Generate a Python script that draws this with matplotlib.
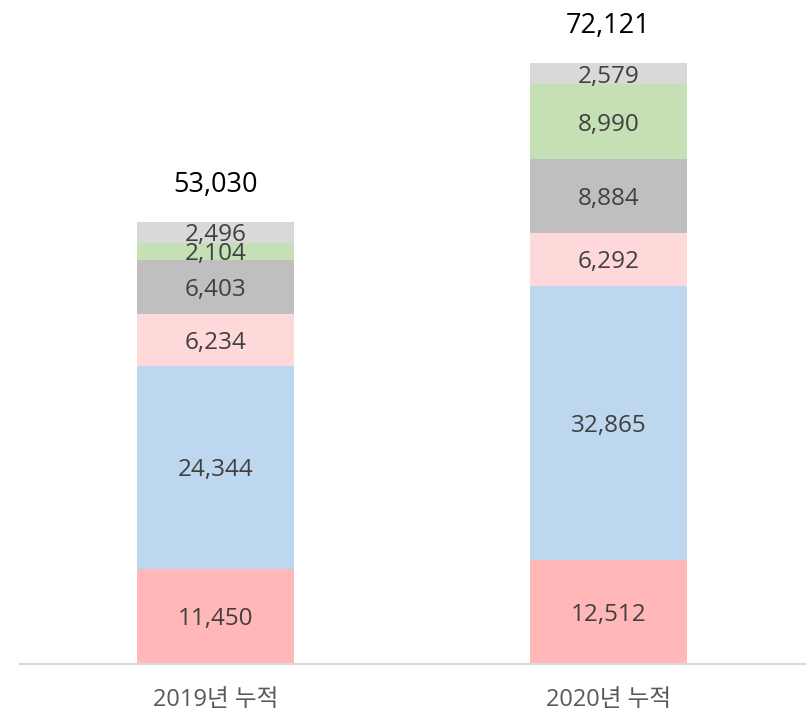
import matplotlib
matplotlib.use('Agg')
import matplotlib.pyplot as plt
import numpy as np

plt.rcParams['font.family'] = ['Open Sans', 'Noto Sans CJK KR', 'DejaVu Sans']

# 데이터
categories = ['2019년 누적', '2020년 누적']
s1 = [11450, 12512]
s2 = [24344, 32865]
s3 = [6234, 6292]
s4 = [6403, 8884]
s5 = [2104, 8990]
s6 = [2496, 2579]
totals = [53030, 72121]

series = [s1, s2, s3, s4, s5, s6]
colors = ['#FFB7B7', '#BDD7EE', '#FFD9D9', '#BFBFBF', '#C5E0B4', '#D9D9D9']

fig = plt.figure(figsize=(8.07, 7.14), dpi=100)
ax = fig.add_axes([20/807, 50/714, 785/807, 664/714])

x = np.arange(len(categories))
bottom = np.zeros(len(categories))
for vals, col in zip(series, colors):
    ax.bar(x, vals, width=0.4, bottom=bottom, color=col)
    for xi, b, v in zip(x, bottom, vals):
        ax.text(xi, b + v / 2, format(v, ','), ha='center', va='center_baseline',
                fontsize=17.5, color='#404040')
    bottom += np.array(vals)

for xi, t in zip(x, totals):
    ax.annotate(format(t, ','), (xi, t), xytext=(0, 29), textcoords='offset points',
                ha='center', va='center_baseline', fontsize=19.5, color='black')

ax.set_xlim(-0.497, 1.5)
ax.set_ylim(0, 79650)
ax.set_xticks(x)
ax.set_xticklabels(categories, fontsize=17, color='#595959')
ax.tick_params(axis='x', length=0, pad=17)
ax.set_yticks([])
for s in ['top', 'right', 'left']:
    ax.spines[s].set_visible(False)
ax.spines['bottom'].set_color('#D9D9D9')
ax.spines['bottom'].set_linewidth(1.5)

plt.savefig('out.png', dpi=100)
